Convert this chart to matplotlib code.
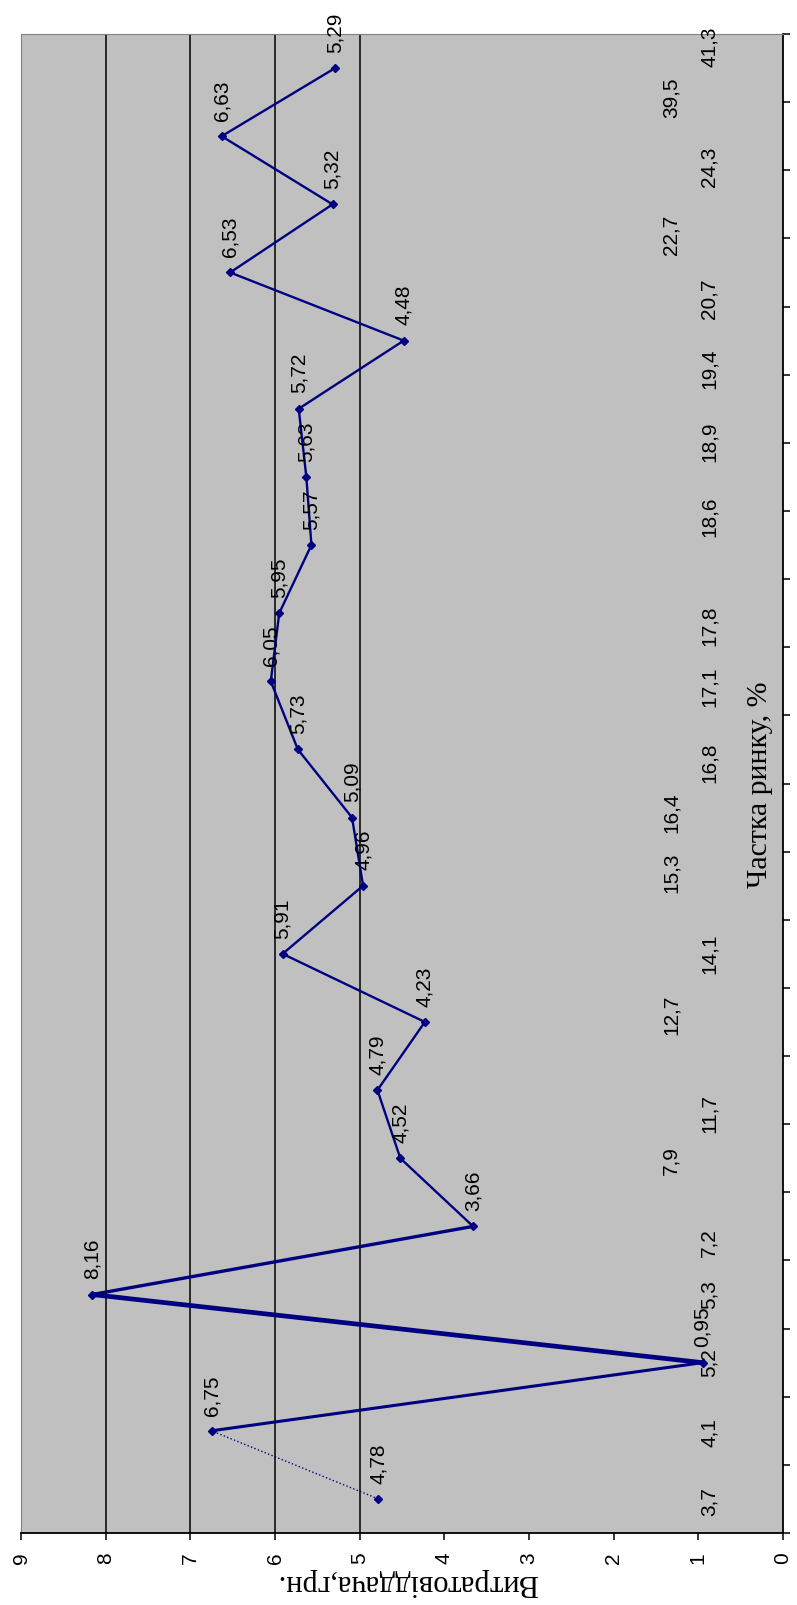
import numpy as np
import matplotlib
matplotlib.use("Agg")
import matplotlib.pyplot as plt
from matplotlib.transforms import blended_transform_factory, offset_copy

# Частка ринку, % (категорії) і витратовіддача, грн
shares = ['3,7', '4,1', '5,2', '5,3', '7,2', '7,9', '11,7', '12,7', '14,1', '15,3',
          '16,4', '16,8', '17,1', '17,8', '18,6', '18,9', '19,4', '20,7', '22,7',
          '24,3', '39,5', '41,3']
values = [4.78, 6.75, 0.95, 8.16, 3.66, 4.52, 4.79, 4.23, 5.91, 4.96, 5.09,
          5.73, 6.05, 5.95, 5.57, 5.63, 5.72, 4.48, 6.53, 5.32, 6.63, 5.29]
value_ticks = list(range(10))
grid_values = [5, 6, 7, 8]

# підписи категорій у два ряди, зсуви підписів вручну (пікселі)
inner_row = [5, 7, 9, 10, 18, 20]
label_shift = [-3, -2, 0, 0, -16, -2, -23, 7, 0, 13, 5, -13, -5, -13,
               28, 35, 40, 42, 38, 38, 38, 21]

NAVY = '#000080'
W, H = 797, 1605

fig = plt.figure(figsize=(W / 100, H / 100), dpi=100)
fig.patch.set_facecolor('white')
left, right, top, bottom = 21, 783, 34, 1533
ax = fig.add_axes([left / W, 1 - bottom / H, (right - left) / W, (bottom - top) / H])
ax.set_facecolor('#c0c0c0')

pos = np.arange(len(values))

for g in grid_values:
    ax.axvline(g, color='black', lw=1.1, zorder=1)

# товщина відрізків лінії
seg_w = [1.0, 2.2, 3.4, 2.4] + [1.7] * (len(values) - 5)
seg_ls = [':'] + ['-'] * (len(values) - 2)
for i in range(len(values) - 1):
    ax.plot(values[i:i + 2], pos[i:i + 2], color=NAVY, lw=seg_w[i],
            ls=seg_ls[i], solid_capstyle='round', zorder=3)
ax.plot(values, pos, ls='none', marker='D', ms=4.5, color=NAVY, zorder=4)

for i, v in enumerate(values):
    ax.annotate(f'{v:.2f}'.replace('.', ','), (v, i), xytext=(0, 11),
                textcoords='offset points', rotation=90, ha='center', va='bottom',
                fontsize=15, family='Liberation Sans', color='black', zorder=5)

trans = blended_transform_factory(ax.transAxes, ax.transData)
for i, s in enumerate(shares):
    x = 0.853 if i in inner_row else 0.903
    t = offset_copy(trans, fig=fig, x=0, y=label_shift[i], units='dots')
    ax.text(x, i, s, transform=t, rotation=90, ha='center', va='center',
            fontsize=15, family='Liberation Sans', color='black', zorder=5)

ax.set_xlim(9, 0)
ax.set_ylim(-0.5, len(values) - 0.5)
ax.set_xticks(value_ticks)
ax.set_xticklabels([str(t) for t in value_ticks], rotation=90,
                   fontsize=15, family='Liberation Sans')
ax.tick_params(axis='x', direction='out', length=5, width=1.1, pad=9)

ax.yaxis.tick_right()
ax.set_yticks(np.arange(-0.5, len(values), 1))
ax.set_yticklabels([])
ax.tick_params(axis='y', direction='out', length=5, width=1.1)

ax.spines['bottom'].set_color('black')
ax.spines['bottom'].set_linewidth(1.3)
ax.spines['right'].set_color('black')
ax.spines['right'].set_linewidth(1.3)
ax.spines['top'].set_color('#808080')
ax.spines['left'].set_color('#808080')

fig.text(760 / W, 1 - 785 / H, 'Частка ринку, %', rotation=90, ha='center',
         va='center', fontsize=21.5, family='Liberation Serif')
fig.text(407 / W, 1 - 1582 / H, 'Витратовіддача,грн.', rotation=180, ha='center',
         va='center', fontsize=22, family='Liberation Serif')

fig.savefig('out.png', dpi=100, facecolor='white')
